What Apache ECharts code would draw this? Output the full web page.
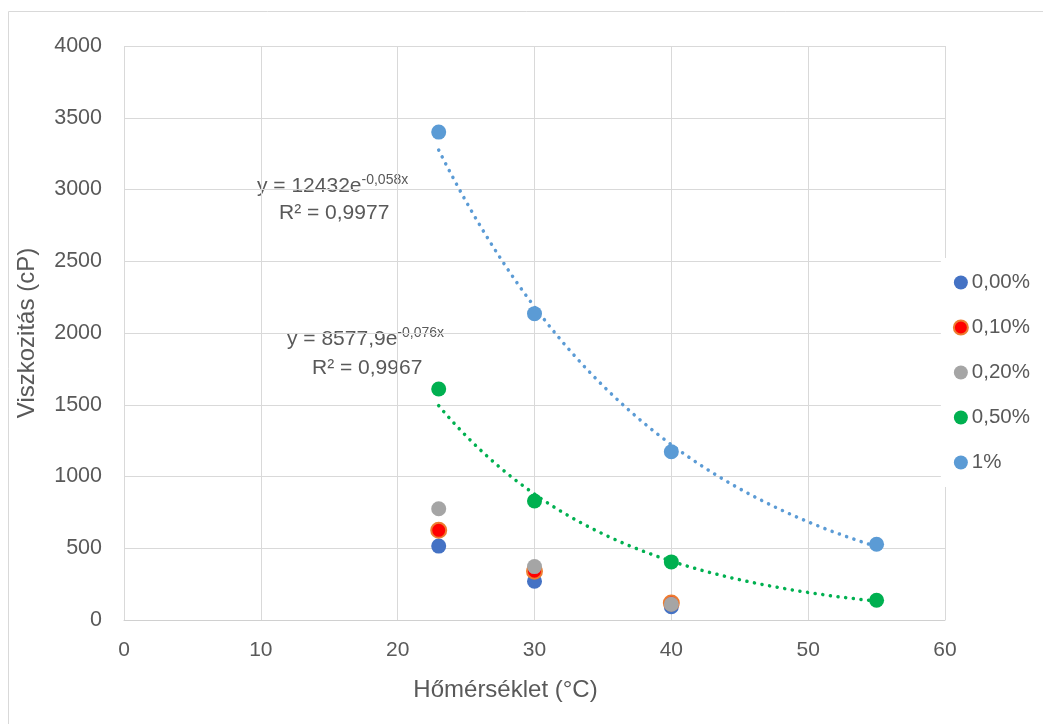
<!DOCTYPE html>
<html><head><meta charset="utf-8">
<script src="https://cdn.jsdelivr.net/npm/echarts@6/dist/echarts.min.js"></script>
<style>html,body{margin:0;padding:0;background:#fff}#c{width:1043px;height:724px}</style>
</head><body><div id="c"></div>
<script>
const seriesNames = ['0,00%', '0,10%', '0,20%', '0,50%', '1%'];
const temps0 = [23, 30, 40];
const temps1 = [23, 30, 40, 55];
const v000 = [515, 270, 92];
const v010 = [625, 340, 118];
const v020 = [775, 372, 110];
const v050 = [1610, 829, 405, 138];
const v100 = [3400, 2135, 1172, 528];
const fit050 = { a: 8577.9, b: -0.076, r2: '0,9967', label: 'y = 8577,9e', exp: '-0,076x' };
const fit100 = { a: 12432, b: -0.058, r2: '0,9977', label: 'y = 12432e', exp: '-0,058x' };
const xTicks = [0, 10, 20, 30, 40, 50, 60];
const yTicks = [0, 500, 1000, 1500, 2000, 2500, 3000, 3500, 4000];

function pairs(xs, ys) { return xs.map((x, i) => [x, ys[i]]); }
function trend(fit, x0, x1) {
  const out = [];
  for (let i = 0; i <= 80; i++) { const x = x0 + (x1 - x0) * i / 80; out.push([x, fit.a * Math.exp(fit.b * x)]); }
  return out;
}
const font = "'Liberation Sans', Arial, sans-serif";
const txt = '#595959';
const chart = echarts.init(document.getElementById('c'));
const sc = (name, data, color, border) => ({
  name, type: 'scatter', data, symbolSize: 15, z: 5,
  itemStyle: { color, borderColor: border || color, borderWidth: border ? 2 : 0, opacity: 1 }
});
const tl = (data, color) => ({
  type: 'line', data, showSymbol: false, symbol: 'none', silent: true, z: 3,
  lineStyle: { color, width: 3.5, type: [0.1, 7.6], cap: 'round' }
});
const eqRich = {
  n: { fontSize: 21, fill: txt, fontFamily: font, lineHeight: 24, verticalAlign: 'bottom' },
  s: { fontSize: 14, fill: txt, fontFamily: font, lineHeight: 14, verticalAlign: 'top' }
};
chart.setOption({
  animation: false,
  textStyle: { fontFamily: font },
  grid: { left: 124, right: 98, top: 46, bottom: 104 },
  xAxis: {
    type: 'value', min: 0, max: 60, interval: 10,
    name: 'Hőmérséklet (°C)', nameLocation: 'middle', nameGap: 58,
    nameTextStyle: { color: txt, fontSize: 24, fontFamily: font, padding: [0, 58, 0, 0] },
    axisLine: { show: true, lineStyle: { color: '#D0D0D0', width: 1 } },
    axisTick: { show: false },
    axisLabel: { color: txt, fontSize: 21, margin: 20, formatter: v => xTicks.includes(v) ? String(v) : '' },
    splitLine: { show: true, lineStyle: { color: '#D9D9D9', width: 1 } }
  },
  yAxis: {
    type: 'value', min: 0, max: 4000, interval: 500,
    name: 'Viszkozitás (cP)', nameLocation: 'middle', nameGap: 85,
    nameTextStyle: { color: txt, fontSize: 24, fontFamily: font },
    axisLine: { show: false }, axisTick: { show: false },
    axisLabel: { color: txt, fontSize: 21.5, margin: 22, formatter: v => yTicks.includes(v) ? String(v) : '' },
    splitLine: { show: true, lineStyle: { color: '#D9D9D9', width: 1 } }
  },
  legend: {
    orient: 'vertical', right: 3, top: 258, itemGap: 24,
    backgroundColor: '#fff', padding: [14, 10, 14, 12],
    data: seriesNames.map(n => ({ name: n, icon: 'circle' })),
    itemWidth: 14, itemHeight: 14,
    textStyle: { color: txt, fontSize: 20.5, fontFamily: font, padding: [0, 0, 0, -1] }
  },
  graphic: [
    { type: 'rect', shape: { x: 8.5, y: 11.5, width: 1040, height: 720 }, style: { fill: 'none', stroke: '#D9D9D9', lineWidth: 1 }, z: -10, silent: true },
    { type: 'text', left: 257, top: 173, style: { text: '{n|' + fit100.label + '}{s|' + fit100.exp + '}', rich: eqRich } },
    { type: 'text', left: 279, top: 203, style: { text: 'R² = ' + fit100.r2, fontSize: 21, fill: txt, fontFamily: font } },
    { type: 'text', left: 287, top: 326, style: { text: '{n|' + fit050.label + '}{s|' + fit050.exp + '}', rich: eqRich } },
    { type: 'text', left: 312, top: 358, style: { text: 'R² = ' + fit050.r2, fontSize: 21, fill: txt, fontFamily: font } }
  ],
  series: [
    tl(trend(fit100, temps1[0], temps1[temps1.length - 1]), '#5B9BD5'),
    tl(trend(fit050, temps1[0], temps1[temps1.length - 1]), '#00B050'),
    sc(seriesNames[0], pairs(temps0, v000), '#4472C4'),
    sc(seriesNames[1], pairs(temps0, v010), '#FF0000', '#ED7D31'),
    sc(seriesNames[2], pairs(temps0, v020), '#A5A5A5'),
    sc(seriesNames[3], pairs(temps1, v050), '#00B050'),
    sc(seriesNames[4], pairs(temps1, v100), '#5B9BD5')
  ]
});
</script></body></html>
